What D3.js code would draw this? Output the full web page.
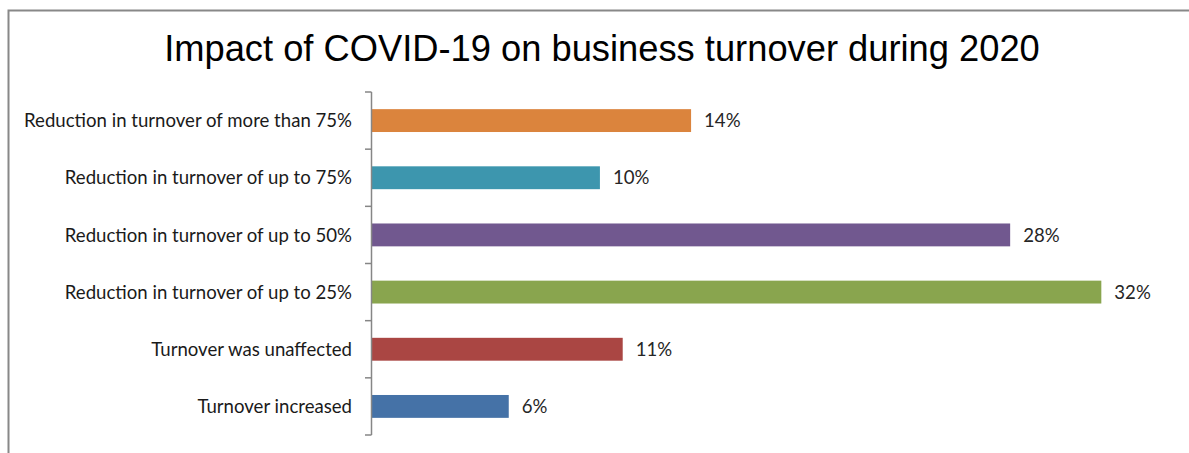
<!DOCTYPE html>
<html>
<head>
<meta charset="utf-8">
<script src="https://cdn.jsdelivr.net/npm/d3@7/dist/d3.min.js"></script>
<style>
  html, body { margin: 0; padding: 0; background: #fff; }
  svg { display: block; }
</style>
</head>
<body>
<svg id="chart" width="1189" height="453"></svg>
<script>
// Survey responses: share of businesses by turnover outcome in 2020
const titleText = "Impact of COVID-19 on business turnover during 2020";
const categories = [
  "Reduction in turnover of more than 75%",
  "Reduction in turnover of up to 75%",
  "Reduction in turnover of up to 50%",
  "Reduction in turnover of up to 25%",
  "Turnover was unaffected",
  "Turnover increased"
];
const values = [0.14, 0.10, 0.28, 0.32, 0.11, 0.06];
const barColors = ["#DB843D", "#3D96AE", "#71588F", "#89A54E", "#AA4643", "#4572A7"];
const xMax = 0.35;

const svg = d3.select("#chart");
const W = 1189, H = 453;

// Outer frame (top and left edges)
svg.append("path")
  .attr("d", `M8.5,${H} L8.5,10.5 L${W},10.5`)
  .attr("fill", "none")
  .attr("stroke", "#888888")
  .attr("stroke-width", 2);

// Title
svg.append("text")
  .attr("x", 602)
  .attr("y", 61)
  .attr("text-anchor", "middle")
  .attr("font-family", "Liberation Sans, Arial, sans-serif")
  .attr("font-size", 36.3)
  .attr("fill", "#000")
  .text(titleText);

const plotLeft = 372, plotTop = 92, plotBottom = 435;

const x = d3.scaleLinear().domain([0, xMax]).range([plotLeft, plotLeft + 797.7]);
const y = d3.scaleBand().domain(categories).range([plotTop, plotBottom])
  .paddingInner(0.6).paddingOuter(0.3);

// Bars
svg.append("g").selectAll("rect")
  .data(values)
  .join("rect")
  .attr("x", x(0))
  .attr("y", (d, i) => y(categories[i]))
  .attr("width", d => x(d) - x(0))
  .attr("height", y.bandwidth())
  .attr("fill", (d, i) => barColors[i]);

// Value labels
const fmt = d3.format(".0%");
svg.append("g").selectAll("text")
  .data(values)
  .join("text")
  .attr("x", d => x(d) + 13)
  .attr("y", (d, i) => y(categories[i]) + y.bandwidth() / 2)
  .attr("dy", "0.36em")
  .attr("font-family", "Lato, Carlito, Calibri, sans-serif")
  .attr("font-size", 18.6)
  .attr("fill", "#262626")
  .text(d => fmt(d));

// Category axis: line with ticks at band boundaries
const step = y.step();
const boundaries = d3.range(categories.length + 1).map(i => plotTop + i * step);
const axisG = svg.append("g");
axisG.append("line")
  .attr("x1", plotLeft - 0.5).attr("x2", plotLeft - 0.5)
  .attr("y1", plotTop).attr("y2", plotBottom)
  .attr("stroke", "#868686").attr("stroke-width", 1.5);
axisG.selectAll("line.tick")
  .data(boundaries)
  .join("line")
  .attr("class", "tick")
  .attr("x1", plotLeft - 7).attr("x2", plotLeft - 0.5)
  .attr("y1", d => d).attr("y2", d => d)
  .attr("stroke", "#868686").attr("stroke-width", 1.5);

axisG.selectAll("text")
  .data(categories)
  .join("text")
  .attr("x", 352)
  .attr("y", d => y(d) + y.bandwidth() / 2)
  .attr("dy", "0.36em")
  .attr("text-anchor", "end")
  .attr("font-family", "Lato, Carlito, Calibri, sans-serif")
  .attr("font-size", 18.6)
  .attr("fill", "#1a1a1a")
  .text(d => d);
</script>
</body>
</html>
